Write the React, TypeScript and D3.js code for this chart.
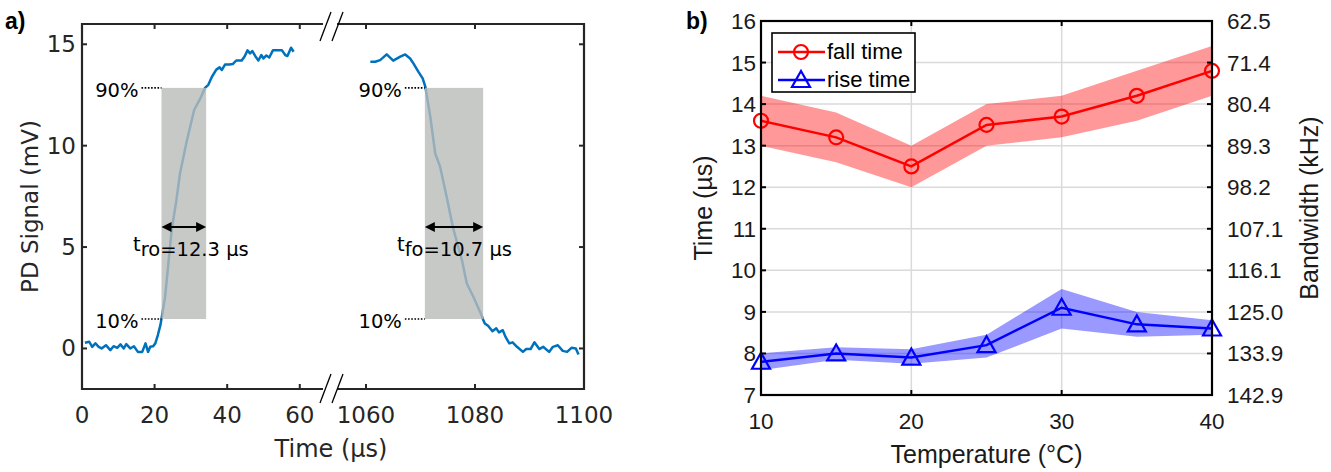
import React from "react";
import * as d3 from "d3";

// panel a: photodiode signal, rising edge (µs) and falling edge (µs)
const riseTime = [0.8, 2.0, 2.8, 3.7, 4.6, 5.4, 6.6, 7.8, 8.7, 9.7, 10.6, 11.5, 12.2, 13.3, 14.3, 15.4, 16.6, 17.5, 18.2, 18.8, 19.6, 20.2, 20.9, 21.6, 22.0, 22.9, 23.8, 24.7, 26.0, 27.0, 28.7, 30.9, 32.6, 33.9, 34.8, 35.8, 37.0, 37.9, 38.5, 39.4, 40.6, 41.6, 42.5, 44.0, 44.8, 45.6, 46.3, 46.9, 47.8, 48.6, 49.4, 50.0, 50.8, 51.6, 52.6, 53.9, 55.1, 56.0, 56.6, 57.6, 58.3];
const riseSignal = [0.28, 0.33, 0.08, 0.25, 0.08, 0.0, 0.16, -0.08, 0.11, 0.03, 0.2, 0.0, 0.21, 0.0, 0.11, -0.17, -0.17, 0.25, -0.17, 0.08, 0.11, 0.25, 0.66, 1.15, 1.56, 2.55, 4.2, 5.84, 7.3, 8.63, 10.1, 11.76, 12.33, 12.85, 13.0, 13.4, 13.75, 13.86, 13.73, 14.0, 14.0, 14.03, 14.2, 14.2, 14.4, 14.7, 14.55, 14.67, 14.4, 14.2, 14.47, 14.3, 14.45, 14.35, 14.7, 14.7, 14.7, 14.47, 14.42, 14.83, 14.63];
const fallTime = [1060.8, 1061.7, 1062.6, 1063.8, 1065.0, 1066.3, 1067.2, 1068.1, 1068.7, 1069.6, 1070.4, 1070.9, 1071.8, 1072.7, 1073.6, 1074.8, 1076.0, 1077.6, 1078.5, 1079.7, 1081.2, 1081.4, 1081.8, 1082.4, 1083.2, 1083.9, 1084.4, 1085.1, 1085.6, 1086.3, 1086.9, 1087.7, 1088.8, 1089.4, 1090.2, 1090.9, 1091.8, 1092.5, 1093.6, 1094.3, 1095.2, 1096.1, 1096.9, 1097.7, 1098.5, 1099.0];
const fallSignal = [14.14, 14.14, 14.22, 14.5, 14.19, 14.39, 14.5, 14.3, 14.06, 13.65, 13.32, 12.9, 11.43, 9.62, 8.96, 7.48, 5.92, 4.36, 3.2, 2.55, 1.64, 1.48, 1.23, 1.12, 0.85, 0.99, 0.79, 0.9, 0.57, 0.25, 0.3, 0.08, -0.17, -0.03, -0.03, 0.3, -0.03, 0.08, -0.17, 0.08, 0.16, -0.12, -0.17, 0.03, 0.0, -0.3];
const leftTicks = [0, 20, 40, 60];
const rightTicks = [1060, 1080, 1100];
const signalTicks = [0, 5, 10, 15];
const level10 = 1.45;
const level90 = 12.85;
const riseStart = 21.9;
const riseDuration = 12.3;
const fallStart = 1070.8;
const fallDuration = 10.7;

// panel b: rise / fall time vs temperature
const temperatures = [10, 15, 20, 25, 30, 35, 40];
const fallMean = [13.6, 13.2, 12.5, 13.5, 13.7, 14.2, 14.8];
const fallUpper = [14.2, 13.8, 13.0, 14.0, 14.2, 14.8, 15.4];
const fallLower = [13.0, 12.6, 12.0, 13.0, 13.2, 13.6, 14.2];
const riseMean = [7.8, 8.0, 7.9, 8.2, 9.1, 8.7, 8.6];
const riseUpper = [8.0, 8.15, 8.1, 8.45, 9.55, 9.0, 8.8];
const riseLower = [7.6, 7.85, 7.75, 7.9, 8.6, 8.4, 8.45];
const tempTicks = [10, 20, 30, 40];
const timeTicks = [7, 8, 9, 10, 11, 12, 13, 14, 15, 16];
const bandwidthLabels = ["142.9", "133.9", "125.0", "116.1", "107.1", "98.2", "89.3", "80.4", "71.4", "62.5"];

const FONT_A = "'DejaVu Sans', Verdana, sans-serif";
const FONT_B = "'Liberation Sans', Arial, sans-serif";
const AX_A = "#262626";

const arrowPath = (x1: number, x2: number, y: number) => {
  const L = 10, H = 5;
  return `M${x1},${y}L${x1 + L},${y - H}L${x1 + L},${y + H}Z M${x2},${y}L${x2 - L},${y - H}L${x2 - L},${y + H}Z`;
};

const PanelA = () => {
  const xL = d3.scaleLinear().domain([0, 66.4]).range([82, 323]);
  const xR = d3.scaleLinear().domain([1054.5, 1100]).range([336, 584]);
  const y = d3.scaleLinear().domain([-2, 16]).range([389, 24]);
  const top = y(16), bottom = y(-2), left = xL(0), right = xR(1100);

  const riseData = riseTime.map((t, i) => [t, riseSignal[i]] as [number, number]);
  const fallData = fallTime.map((t, i) => [t, fallSignal[i]] as [number, number]);
  const lineL = d3.line<[number, number]>().x((d) => xL(d[0])).y((d) => y(d[1]));
  const lineR = d3.line<[number, number]>().x((d) => xR(d[0])).y((d) => y(d[1]));

  const rx1 = xL(riseStart), rx2 = xL(riseStart + riseDuration);
  const fx1 = xR(fallStart), fx2 = xR(fallStart + fallDuration);
  const y90 = y(level90), y10 = y(level10);
  const arrowY = 227;

  return (
    <g>
      <text x={5} y={29} fontFamily={FONT_B} fontWeight="bold" fontSize={23} fill="#000">a)</text>
      <path d={lineL(riseData) ?? ""} fill="none" stroke="#0072BD" strokeWidth={2.5} strokeLinejoin="round" />
      <path d={lineR(fallData) ?? ""} fill="none" stroke="#0072BD" strokeWidth={2.5} strokeLinejoin="round" />
      <rect x={rx1} y={y90} width={rx2 - rx1} height={y10 - y90} fill="#b9bcb9" opacity={0.8} />
      <rect x={fx1} y={y90} width={fx2 - fx1} height={y10 - y90} fill="#b9bcb9" opacity={0.8} />

      {/* level markers */}
      <g fontFamily={FONT_A} fontSize={19.5} fill="#000">
        <text x={rx1 - 23} y={y90 + 9} textAnchor="end">90%</text>
        <text x={rx1 - 23} y={y10 + 9} textAnchor="end">10%</text>
        <text x={fx1 - 23} y={y90 + 9} textAnchor="end">90%</text>
        <text x={fx1 - 23} y={y10 + 9} textAnchor="end">10%</text>
      </g>
      <g stroke="#000" strokeWidth={1.6} strokeDasharray="1.6 1.6">
        <line x1={rx1 - 20} x2={rx1} y1={y90} y2={y90} />
        <line x1={rx1 - 20} x2={rx1} y1={y10} y2={y10} />
        <line x1={fx1 - 20} x2={fx1} y1={y90} y2={y90} />
        <line x1={fx1 - 20} x2={fx1} y1={y10} y2={y10} />
      </g>

      {/* duration arrows */}
      <line x1={rx1 + 4} x2={rx2 - 4} y1={arrowY} y2={arrowY} stroke="#000" strokeWidth={2} />
      <path d={arrowPath(rx1, rx2, arrowY)} fill="#000" />
      <line x1={fx1 + 4} x2={fx2 - 4} y1={arrowY} y2={arrowY} stroke="#000" strokeWidth={2} />
      <path d={arrowPath(fx1, fx2, arrowY)} fill="#000" />
      <text x={133} y={256} fontFamily={FONT_A} fontSize={19.5} fill="#000">
        <tspan dy={-5}>t</tspan><tspan dy={5}>ro=12.3 µs</tspan>
      </text>
      <text x={397} y={256} fontFamily={FONT_A} fontSize={19.5} fill="#000">
        <tspan dy={-5}>t</tspan><tspan dy={5}>fo=10.7 µs</tspan>
      </text>

      {/* axes box with break */}
      <g stroke={AX_A} strokeWidth={2.2} fill="none">
        <line x1={left} x2={left} y1={top - 1} y2={bottom + 1} />
        <line x1={right} x2={right} y1={top - 1} y2={bottom + 1} />
        <line x1={left} x2={323} y1={top} y2={top} />
        <line x1={337} x2={right} y1={top} y2={top} />
        <line x1={left} x2={323} y1={bottom} y2={bottom} />
        <line x1={337} x2={right} y1={bottom} y2={bottom} />
      </g>
      <g stroke="#000" strokeWidth={1.3}>
        <line x1={320} y1={top + 17} x2={331} y2={top - 12} />
        <line x1={332} y1={top + 17} x2={343} y2={top - 12} />
        <line x1={320} y1={bottom + 14} x2={331} y2={bottom - 15} />
        <line x1={332} y1={bottom + 14} x2={343} y2={bottom - 15} />
      </g>
      <g stroke={AX_A} strokeWidth={2}>
        {leftTicks.filter((t) => t > 0).map((t) => (
          <g key={"l" + t}>
            <line x1={xL(t)} x2={xL(t)} y1={bottom} y2={bottom - 5} />
            <line x1={xL(t)} x2={xL(t)} y1={top} y2={top + 5} />
          </g>
        ))}
        {rightTicks.filter((t) => t < 1100).map((t) => (
          <g key={"r" + t}>
            <line x1={xR(t)} x2={xR(t)} y1={bottom} y2={bottom - 5} />
            <line x1={xR(t)} x2={xR(t)} y1={top} y2={top + 5} />
          </g>
        ))}
        {signalTicks.map((v) => (
          <g key={"v" + v}>
            <line x1={left} x2={left + 5} y1={y(v)} y2={y(v)} />
            <line x1={right} x2={right - 5} y1={y(v)} y2={y(v)} />
          </g>
        ))}
      </g>
      <g fontFamily={FONT_A} fontSize={23} fill={AX_A}>
        {leftTicks.map((t) => (
          <text key={t} x={xL(t)} y={bottom + 34} textAnchor="middle">{t}</text>
        ))}
        {rightTicks.map((t) => (
          <text key={t} x={xR(t)} y={bottom + 34} textAnchor="middle">{t}</text>
        ))}
        {signalTicks.map((v) => (
          <text key={v} x={left - 6} y={y(v) + 8} textAnchor="end">{v}</text>
        ))}
      </g>
      <text x={331} y={457} fontFamily={FONT_A} fontSize={24} fill={AX_A} textAnchor="middle">Time (µs)</text>
      <text transform={`translate(38,${(top + bottom) / 2}) rotate(-90)`} fontFamily={FONT_A} fontSize={23} fill={AX_A} textAnchor="middle">PD Signal (mV)</text>
    </g>
  );
};

const PanelB = () => {
  const x = d3.scaleLinear().domain([10, 40]).range([761, 1212]);
  const y = d3.scaleLinear().domain([7, 16]).range([395, 21]);
  const top = y(16), bottom = y(7), left = x(10), right = x(40);

  const idx = temperatures.map((_, i) => i);
  const area = (lo: number[], hi: number[]) =>
    d3.area<number>().x((i) => x(temperatures[i])).y0((i) => y(lo[i])).y1((i) => y(hi[i]))(idx) ?? "";
  const line = (v: number[]) => d3.line<number>().x((i) => x(temperatures[i])).y((i) => y(v[i]))(idx) ?? "";
  const tri = (cx: number, cy: number) => `M${cx},${cy - 9}L${cx + 9},${cy + 7}L${cx - 9},${cy + 7}Z`;

  return (
    <g>
      <text x={686} y={29} fontFamily={FONT_B} fontWeight="bold" fontSize={23} fill="#000">b)</text>
      <g stroke="#dadada" strokeWidth={1.5}>
        {tempTicks.map((t) => <line key={t} x1={x(t)} x2={x(t)} y1={top} y2={bottom} />)}
        {timeTicks.map((v) => <line key={v} x1={left} x2={right} y1={y(v)} y2={y(v)} />)}
      </g>
      <path d={area(fallLower, fallUpper)} fill="#ff0000" opacity={0.4} />
      <path d={area(riseLower, riseUpper)} fill="#0000ff" opacity={0.4} />
      <path d={line(fallMean)} fill="none" stroke="#ff0000" strokeWidth={2.5} />
      <path d={line(riseMean)} fill="none" stroke="#0000ff" strokeWidth={2.5} />
      {idx.map((i) => (
        <circle key={"c" + i} cx={x(temperatures[i])} cy={y(fallMean[i])} r={7} fill="none" stroke="#ff0000" strokeWidth={2.2} />
      ))}
      {idx.map((i) => (
        <path key={"t" + i} d={tri(x(temperatures[i]), y(riseMean[i]))} fill="none" stroke="#0000ff" strokeWidth={2.2} />
      ))}

      {/* axes */}
      <rect x={left} y={top} width={right - left} height={bottom - top} fill="none" stroke="#000" strokeWidth={2.2} />
      <g stroke="#000" strokeWidth={2}>
        {tempTicks.map((t) => (
          <g key={t}>
            <line x1={x(t)} x2={x(t)} y1={bottom} y2={bottom - 5} />
            <line x1={x(t)} x2={x(t)} y1={top} y2={top + 5} />
          </g>
        ))}
        {timeTicks.map((v) => (
          <g key={v}>
            <line x1={left} x2={left + 5} y1={y(v)} y2={y(v)} />
            <line x1={right} x2={right - 5} y1={y(v)} y2={y(v)} />
          </g>
        ))}
      </g>
      <g fontFamily={FONT_B} fontSize={22.5} fill="#1a1a1a">
        {tempTicks.map((t) => (
          <text key={t} x={x(t)} y={bottom + 34} textAnchor="middle">{t}</text>
        ))}
        {timeTicks.map((v) => (
          <text key={v} x={left - 5} y={y(v) + 8} textAnchor="end">{v}</text>
        ))}
        {timeTicks.map((v, i) => (
          <text key={"bw" + v} x={right + 15} y={y(v) + 8}>{bandwidthLabels[i]}</text>
        ))}
      </g>
      <text x={(left + right) / 2} y={463} fontFamily={FONT_B} fontSize={25} fill="#1a1a1a" textAnchor="middle">Temperature (°C)</text>
      <text transform={`translate(712,${(top + bottom) / 2}) rotate(-90)`} fontFamily={FONT_B} fontSize={25} fill="#1a1a1a" textAnchor="middle">Time (µs)</text>
      <text transform={`translate(1318,${(top + bottom) / 2}) rotate(-90)`} fontFamily={FONT_B} fontSize={25} fill="#1a1a1a" textAnchor="middle">Bandwidth (kHz)</text>

      {/* legend */}
      <rect x={772} y={33} width={143} height={59} fill="#fff" stroke="#000" strokeWidth={1.6} />
      <line x1={778} x2={825} y1={52} y2={52} stroke="#ff0000" strokeWidth={2.5} />
      <circle cx={801} cy={52} r={7} fill="none" stroke="#ff0000" strokeWidth={2.2} />
      <line x1={778} x2={825} y1={80} y2={80} stroke="#0000ff" strokeWidth={2.5} />
      <path d={tri(801, 80)} fill="none" stroke="#0000ff" strokeWidth={2.2} />
      <g fontFamily={FONT_B} fontSize={22} fill="#000">
        <text x={827} y={59}>fall time</text>
        <text x={827} y={87}>rise time</text>
      </g>
    </g>
  );
};

export default function App() {
  return (
    <svg width={1331} height={472} style={{ position: "absolute", left: 0, top: 0, background: "#fff" }}>
      <PanelA />
      <PanelB />
    </svg>
  );
}
